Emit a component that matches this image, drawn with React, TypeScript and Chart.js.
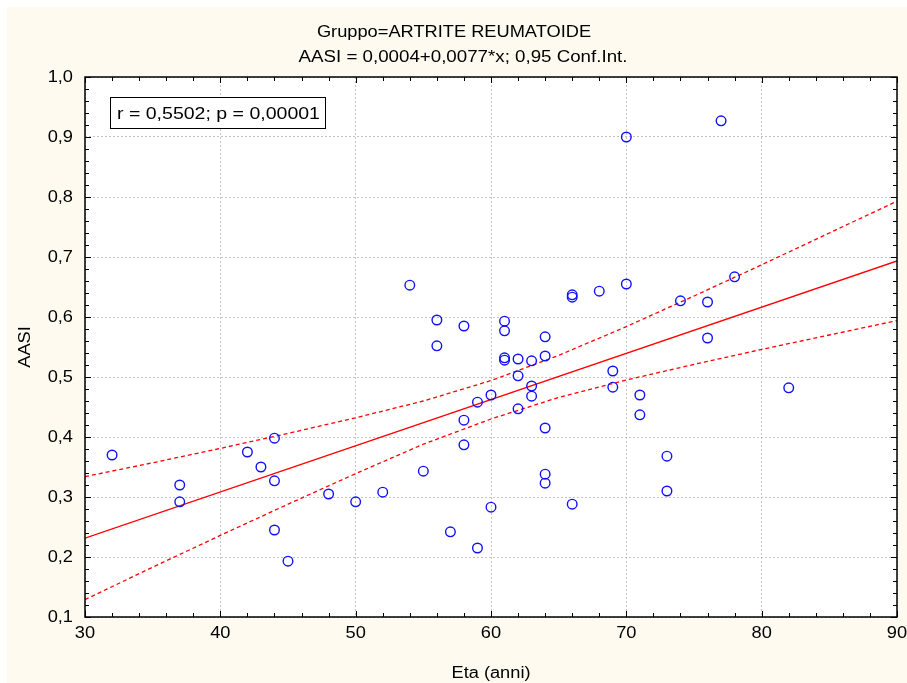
import React, { useEffect, useRef } from "react";
import { Chart, registerables } from "chart.js";
Chart.register(...registerables);

// ---- data ----
const ages = [
  32, 37, 37, 42, 43, 44, 44, 44, 45, 48, 50, 52, 54, 55, 56, 56, 57, 58, 58, 58,
  59, 59, 60, 60, 61, 61, 61, 61, 62, 62, 62, 63, 63, 63, 64, 64, 64, 64, 64, 66,
  66, 66, 68, 70, 70, 69, 69, 71, 71, 73, 73, 74, 76, 76, 77, 78, 82,
];
const aasi = [
  0.37, 0.32, 0.292, 0.375, 0.35, 0.398, 0.327, 0.245, 0.193, 0.305, 0.292, 0.308,
  0.653, 0.343, 0.595, 0.552, 0.242, 0.585, 0.428, 0.387, 0.458, 0.215, 0.47, 0.283,
  0.593, 0.577, 0.532, 0.528, 0.53, 0.502, 0.447, 0.527, 0.485, 0.468, 0.567, 0.535,
  0.415, 0.338, 0.323, 0.637, 0.633, 0.288, 0.643, 0.9, 0.655, 0.51, 0.483, 0.47,
  0.437, 0.368, 0.31, 0.627, 0.625, 0.565, 0.927, 0.667, 0.482,
];
const fitX = [30, 90];
const fitY = [0.2314, 0.6934];
const bandX = [30, 35, 40, 45, 50, 55, 60, 65, 70, 75, 80, 85, 90];
const upperBand = [0.334, 0.357, 0.381, 0.406, 0.432, 0.46, 0.494, 0.536, 0.584, 0.635, 0.687, 0.74, 0.793];
const lowerBand = [0.129, 0.183, 0.236, 0.288, 0.339, 0.388, 0.43, 0.466, 0.495, 0.521, 0.546, 0.57, 0.594];

const xTicks = [30, 40, 50, 60, 70, 80, 90];
const xTickLabels = ["30", "40", "50", "60", "70", "80", "90"];
const yTicks = [0.1, 0.2, 0.3, 0.4, 0.5, 0.6, 0.7, 0.8, 0.9, 1.0];
const yTickLabels = ["0,1", "0,2", "0,3", "0,4", "0,5", "0,6", "0,7", "0,8", "0,9", "1,0"];

const titleLines = ["Gruppo=ARTRITE REUMATOIDE", "AASI = 0,0004+0,0077*x; 0,95 Conf.Int."];
const xTitle = "Eta (anni)";
const yTitle = "AASI";
const statsText = "r = 0,5502; p = 0,00001";

const FONT = '16px "Liberation Sans", Arial, sans-serif';
const SX = 1.14;

function drawText(
  ctx: CanvasRenderingContext2D,
  text: string,
  x: number,
  y: number,
  align: CanvasTextAlign,
  baseline: CanvasTextBaseline,
  rotate = false,
  sx = SX
) {
  ctx.save();
  ctx.translate(x, y);
  if (rotate) ctx.rotate(-Math.PI / 2);
  ctx.scale(sx, 1);
  ctx.font = FONT;
  ctx.fillStyle = "#000";
  ctx.textAlign = align;
  ctx.textBaseline = baseline;
  ctx.fillText(text, 0, 0);
  ctx.restore();
}

const decorPlugin = {
  id: "decor",
  beforeDraw(chart: any) {
    const { ctx, chartArea: a, width, height } = chart;
    ctx.save();
    ctx.fillStyle = "#ffffff";
    ctx.fillRect(0, 0, width, height);
    ctx.fillStyle = "#fefaf0";
    ctx.fillRect(7, 7, width - 7, height - 7);
    ctx.fillStyle = "#ffffff";
    ctx.fillRect(a.left, a.top, a.right - a.left, a.bottom - a.top);
    ctx.restore();
  },
  afterDraw(chart: any) {
    const { ctx, chartArea: a } = chart;
    const xs = chart.scales.x;
    const ys = chart.scales.y;
    ctx.save();
    // frame
    ctx.strokeStyle = "#000";
    ctx.lineWidth = 1.5;
    ctx.strokeRect(a.left, a.top, a.right - a.left, a.bottom - a.top);
    // inward ticks
    ctx.lineWidth = 1;
    ctx.beginPath();
    for (let v = 30; v <= 90.001; v += 2) {
      const px = Math.round(xs.getPixelForValue(v)) + 0.5;
      const len = (v - 30) % 10 === 0 ? 6 : 4;
      ctx.moveTo(px, a.bottom);
      ctx.lineTo(px, a.bottom - len);
      ctx.moveTo(px, a.top);
      ctx.lineTo(px, a.top + len);
    }
    for (let i = 0; i <= 45; i++) {
      const v = 0.1 + i * 0.02;
      const py = Math.round(ys.getPixelForValue(v)) + 0.5;
      const len = i % 5 === 0 ? 6 : 4;
      ctx.moveTo(a.left, py);
      ctx.lineTo(a.left + len, py);
      ctx.moveTo(a.right, py);
      ctx.lineTo(a.right - len, py);
    }
    ctx.stroke();
    // tick labels
    xTicks.forEach((v, i) => {
      drawText(ctx, xTickLabels[i], xs.getPixelForValue(v), 638, "center", "alphabetic");
    });
    yTicks.forEach((v, i) => {
      drawText(ctx, yTickLabels[i], 73, ys.getPixelForValue(v) + 1, "right", "middle");
    });
    // titles
    const cx = (a.left + a.right) / 2;
    drawText(ctx, titleLines[0], 454, 37, "center", "alphabetic");
    drawText(ctx, titleLines[1], 463, 62, "center", "alphabetic", false, 1.17);
    drawText(ctx, xTitle, cx, 678, "center", "alphabetic");
    drawText(ctx, yTitle, 26, (a.top + a.bottom) / 2, "center", "middle", true);
    // stats box
    ctx.fillStyle = "#fff";
    ctx.fillRect(110.5, 97.5, 215, 31);
    ctx.strokeStyle = "#000";
    ctx.lineWidth = 1;
    ctx.strokeRect(110.5, 97.5, 215, 31);
    drawText(ctx, statsText, 117, 119, "left", "alphabetic", false, 1.22);
    ctx.restore();
  },
};

export default function App() {
  const ref = useRef<HTMLCanvasElement | null>(null);
  useEffect(() => {
    if (!ref.current) return;
    const pts = ages.map((x, i) => ({ x, y: aasi[i] }));
    const fit = fitX.map((x, i) => ({ x, y: fitY[i] }));
    const up = bandX.map((x, i) => ({ x, y: upperBand[i] }));
    const lo = bandX.map((x, i) => ({ x, y: lowerBand[i] }));
    const chart = new Chart(ref.current, {
      type: "scatter",
      data: {
        datasets: [
          {
            data: pts,
            showLine: false,
            pointStyle: "circle",
            pointRadius: 4.8,
            pointBorderWidth: 1.4,
            borderColor: "#1010ff",
            backgroundColor: "rgba(0,0,0,0)",
            order: 0,
          },
          {
            data: fit,
            showLine: true,
            pointRadius: 0,
            borderColor: "#ff0000",
            borderWidth: 1.3,
            order: 1,
          },
          {
            data: up,
            showLine: true,
            pointRadius: 0,
            borderColor: "#ff0000",
            borderWidth: 1.3,
            borderDash: [4, 3],
            order: 1,
          },
          {
            data: lo,
            showLine: true,
            pointRadius: 0,
            borderColor: "#ff0000",
            borderWidth: 1.3,
            borderDash: [4, 3],
            order: 1,
          },
        ],
      },
      options: {
        animation: false,
        responsive: false,
        devicePixelRatio: 1,
        layout: { padding: { top: 77, right: 10, left: 0, bottom: 0 } },
        plugins: {
          legend: { display: false },
          title: { display: false },
          tooltip: { enabled: false },
        },
        scales: {
          x: {
            type: "linear",
            min: 30,
            max: 90,
            ticks: { stepSize: 10, display: false },
            grid: { color: "#c4c4c4", lineWidth: 1, drawTicks: false },
            border: { display: false, dash: [2, 2] },
            afterFit(scale: any) {
              scale.height = 66;
            },
          },
          y: {
            type: "linear",
            min: 0.1,
            max: 1.0,
            ticks: { stepSize: 0.1, display: false },
            grid: { color: "#c4c4c4", lineWidth: 1, drawTicks: false },
            border: { display: false, dash: [2, 2] },
            afterFit(scale: any) {
              scale.width = 85;
            },
          },
        },
      },
      plugins: [decorPlugin],
    });
    return () => chart.destroy();
  }, []);
  return (
    <div style={{ position: "fixed", left: 0, top: 0, width: 907, height: 683 }}>
      <canvas ref={ref} width={907} height={683} style={{ display: "block", width: 907, height: 683 }} />
    </div>
  );
}
